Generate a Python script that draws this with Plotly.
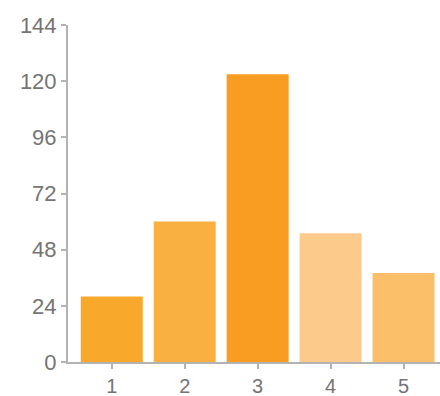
import plotly.graph_objects as go

categories = ["1", "2", "3", "4", "5"]
values = [28, 60, 123, 55, 38]
bar_colors = ["#F8A82A", "#F9B041", "#F89C22", "#FCCB8B", "#FBBE69"]
y_ticks = [0, 24, 48, 72, 96, 120, 144]

fig = go.Figure(go.Bar(
    x=categories, y=values,
    marker=dict(color=bar_colors, line=dict(width=0)),
))

y_font = dict(family="Liberation Sans, Arial, sans-serif", size=22, color="#747474")
x_font = dict(family="Liberation Sans, Arial, sans-serif", size=20, color="#747474")

fig.update_layout(
    width=440, height=396,
    margin=dict(l=68, r=0, t=25, b=34),
    paper_bgcolor="white", plot_bgcolor="white",
    bargap=0.15,
    showlegend=False,
    xaxis=dict(
        type="category", range=[-0.6, 4.5], automargin=False,
        showline=True, linecolor="#b3b3b3", linewidth=2,
        ticks="outside", ticklen=5, tickcolor="#b3b3b3", tickwidth=1.5,
        showgrid=False, zeroline=False, tickfont=x_font,
    ),
    yaxis=dict(
        range=[0, 144], tickvals=y_ticks, automargin=False,
        showline=True, linecolor="#b3b3b3", linewidth=2,
        ticks="outside", ticklen=5, tickcolor="#b3b3b3", tickwidth=1.5,
        showgrid=False, zeroline=False, tickfont=y_font,
    ),
)

fig.write_html("out.html")
